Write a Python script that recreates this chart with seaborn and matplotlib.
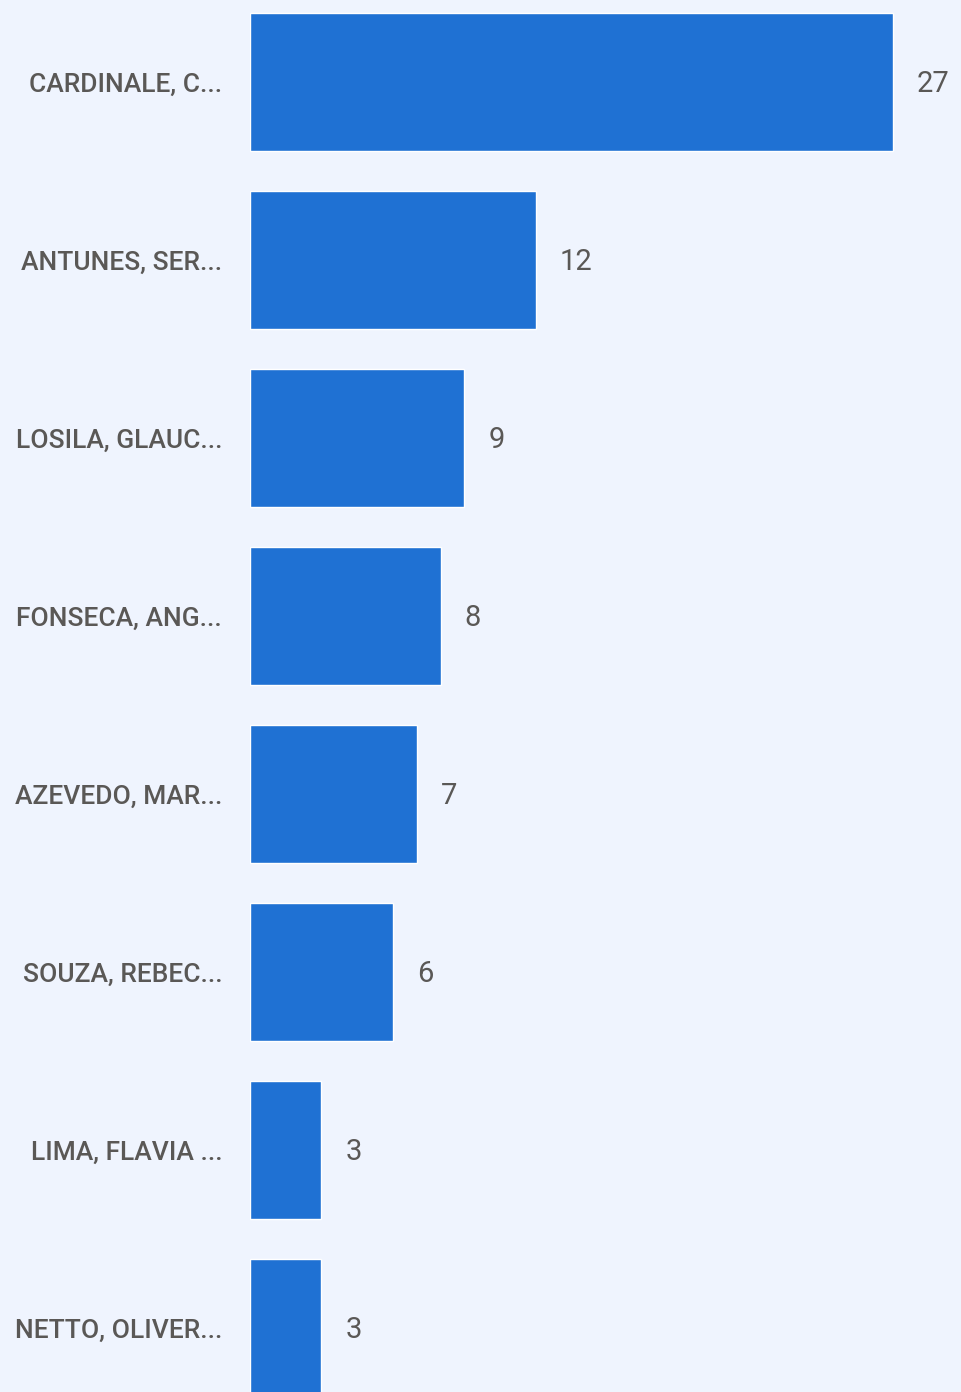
import matplotlib.pyplot as plt
import seaborn as sns
import pandas as pd

nomes = ["CARDINALE, C...", "ANTUNES, SER...", "LOSILA, GLAUC...", "FONSECA, ANG...",
         "AZEVEDO, MAR...", "SOUZA, REBEC...", "LIMA, FLAVIA ...", "NETTO, OLIVER..."]
valores = [27, 12, 9, 8, 7, 6, 3, 3]

fundo = "#EFF4FE"
azul = "#1F71D3"
cinza = "#5A5856"

sns.set_theme(style="white")
plt.rcParams['font.family'] = ['Roboto', 'DejaVu Sans']

df = pd.DataFrame({"nome": nomes, "valor": valores})

fig = plt.figure(figsize=(9.61, 13.92), dpi=100, facecolor=fundo)
ax = fig.add_axes([250 / 961, 0, 1 - 250 / 961, 1])
ax.set_facecolor(fundo)

sns.barplot(data=df, x="valor", y="nome", color=azul, saturation=1, width=0.775, ax=ax)

ax.set_xlim(0, 711 / (643 / 27))
ax.set_ylim((1392 - 82) / 178, -82 / 178)

for i, v in enumerate(valores):
    ax.annotate(str(v), (v, i), xytext=(24, -2), textcoords="offset pixels",
                va="center", ha="left", fontsize=21, color=cinza)

ax.set_xlabel("")
ax.set_ylabel("")
ax.set_xticks([])
ax.tick_params(axis="y", length=0, pad=20, labelsize=19, labelcolor=cinza)
for lbl in ax.get_yticklabels():
    lbl.set_fontweight("medium")
for s in ax.spines.values():
    s.set_visible(False)

plt.savefig("out.png", dpi=100, facecolor=fundo)
plt.close()
